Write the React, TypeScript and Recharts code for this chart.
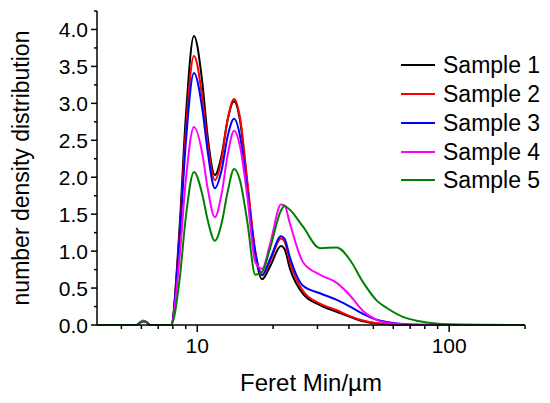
import { LineChart, Line, XAxis, YAxis, Legend } from "recharts";

const FONT = "'Liberation Sans', Arial, Helvetica, sans-serif";

// Feret Min (µm), log axis
const feret = [
  4, 5.75, 5.95, 6.1, 6.3, 6.5, 7.87, 8.5, 9.0, 9.7, 10.5, 11.0, 11.75, 12.5, 13.2, 14.0, 14.8, 15.8, 17.0,
  18.1, 19.5, 21.5, 22.2, 23.3, 26.3, 30.7, 35.8, 40.4, 45.5, 51.6, 56.6, 65.5, 76.5, 100, 200,
];

const sample1 = [
  0, 0, 0.035, 0.05, 0.035, 0, 0, 1.3, 2.8, 3.91, 3.25, 2.55, 2.03, 2.3, 2.78, 3.03, 2.76, 1.9, 0.95, 0.62,
  0.8, 1.07, 1.03, 0.77, 0.42, 0.27, 0.18, 0.11, 0.05, 0.02, 0.01, 0.003, 0, 0, 0,
];
const sample2 = [
  0, 0, 0.035, 0.05, 0.035, 0, 0, 1.2, 2.6, 3.64, 3.05, 2.45, 1.96, 2.25, 2.78, 3.06, 2.8, 1.95, 1.0, 0.67,
  0.87, 1.17, 1.13, 0.86, 0.46, 0.29, 0.2, 0.12, 0.06, 0.025, 0.012, 0.004, 0, 0, 0,
];
const sample3 = [
  0, 0, 0.035, 0.05, 0.035, 0, 0, 1.15, 2.45, 3.41, 2.9, 2.35, 1.85, 2.1, 2.55, 2.79, 2.55, 1.82, 0.98, 0.68,
  0.9, 1.2, 1.17, 0.92, 0.53, 0.43, 0.34, 0.25, 0.15, 0.07, 0.04, 0.012, 0.003, 0, 0,
];
const sample4 = [
  0, 0, 0.04, 0.06, 0.04, 0, 0, 0.9, 1.95, 2.68, 2.3, 1.85, 1.46, 1.78, 2.3, 2.63, 2.41, 1.74, 0.85, 0.76,
  1.11, 1.63, 1.62, 1.38, 0.85, 0.68, 0.57, 0.4, 0.19, 0.07, 0.03, 0.01, 0.003, 0, 0,
];
const sample5 = [
  0, 0, 0.035, 0.05, 0.035, 0, 0, 0.6, 1.45, 2.07, 1.75, 1.42, 1.14, 1.38, 1.8, 2.11, 1.95, 1.4, 0.68, 0.72,
  1.05, 1.55, 1.61, 1.56, 1.33, 1.04, 1.05, 0.88, 0.58, 0.33, 0.23, 0.11, 0.05, 0.01, 0,
];

const seriesNames = ["Sample 1", "Sample 2", "Sample 3", "Sample 4", "Sample 5"];
const seriesColors = ["#000000", "#ff0000", "#0000ff", "#ff00ff", "#008000"];
const allSeries = [sample1, sample2, sample3, sample4, sample5];

const xTicks = [5, 6, 7, 8, 9, 10, 20, 30, 40, 50, 60, 70, 80, 90, 100, 200];
const xMajor = [10, 100];
const yTicks = [0, 0.25, 0.5, 0.75, 1, 1.25, 1.5, 1.75, 2, 2.25, 2.5, 2.75, 3, 3.25, 3.5, 3.75, 4, 4.25];

const data = feret.map((x, i) => {
  const row: Record<string, number> = { x };
  allSeries.forEach((s, k) => {
    row[`s${k + 1}`] = s[i];
  });
  return row;
});

function XTick(props: any) {
  const { x, y, payload } = props;
  const major = xMajor.includes(payload.value);
  return (
    <g>
      <line x1={x} x2={x} y1={y} y2={y + (major ? 7 : 4)} stroke="#000" strokeWidth={1.5} />
      {major && (
        <text x={x} y={y + 28} textAnchor="middle" fontSize={21} fontFamily={FONT} fill="#000">
          {payload.value}
        </text>
      )}
    </g>
  );
}

function YTick(props: any) {
  const { x, y, payload } = props;
  const major = Math.abs(payload.value * 2 - Math.round(payload.value * 2)) < 1e-6;
  return (
    <g>
      <line x1={x - (major ? 6 : 3)} x2={x} y1={y} y2={y} stroke="#000" strokeWidth={1.5} />
      {major && (
        <text x={x - 9} y={y + 7.5} textAnchor="end" fontSize={21} fontFamily={FONT} fill="#000">
          {payload.value.toFixed(1)}
        </text>
      )}
    </g>
  );
}

function LegendBox(props: any) {
  const { payload } = props;
  return (
    <div style={{ fontFamily: FONT, fontSize: 23, color: "#000" }}>
      {(payload || []).map((p: any) => (
        <div key={p.value} style={{ display: "flex", alignItems: "center", height: 28.75 }}>
          <div style={{ width: 34, height: 2, background: p.color, marginRight: 8 }} />
          <span style={{ lineHeight: "28px" }}>{p.value}</span>
        </div>
      ))}
    </div>
  );
}

export default function App() {
  return (
    <div style={{ position: "absolute", left: 0, top: 0, width: 550, height: 403, background: "#fff" }}>
      <LineChart width={550} height={403} data={data} margin={{ top: 11, right: 25, left: 0, bottom: 0 }}>
        <XAxis
          dataKey="x"
          type="number"
          scale="log"
          domain={[4, 200]}
          allowDataOverflow
          ticks={xTicks}
          interval={0}
          height={78}
          tickLine={false}
          tickSize={0}
          tickMargin={0}
          stroke="#000"
          strokeWidth={1.5}
          tick={<XTick />}
          label={{
            value: "Feret Min/\u00b5m",
            position: "insideBottom",
            offset: 12,
            fontSize: 24,
            fontFamily: FONT,
            fill: "#000",
          }}
        />
        <YAxis
          type="number"
          domain={[0, 4.25]}
          ticks={yTicks}
          interval={0}
          width={97}
          tickLine={false}
          tickSize={0}
          tickMargin={0}
          stroke="#000"
          strokeWidth={1.5}
          tick={<YTick />}
          label={{
            value: "number density distribution",
            angle: -90,
            position: "insideLeft",
            dx: 16,
            dy: 0,
            fontSize: 23,
            fontFamily: FONT,
            fill: "#000",
            style: { textAnchor: "middle" },
          }}
        />
        <Legend
          layout="vertical"
          align="center"
          verticalAlign="middle"
          content={<LegendBox />}
          wrapperStyle={{ position: "absolute", left: 401, top: 51, width: 149 }}
        />
        {allSeries.map((_, k) => (
          <Line
            key={k}
            dataKey={`s${k + 1}`}
            name={seriesNames[k]}
            type="monotone"
            stroke={seriesColors[k]}
            strokeWidth={2}
            dot={false}
            activeDot={false}
            isAnimationActive={false}
          />
        ))}
      </LineChart>
    </div>
  );
}
